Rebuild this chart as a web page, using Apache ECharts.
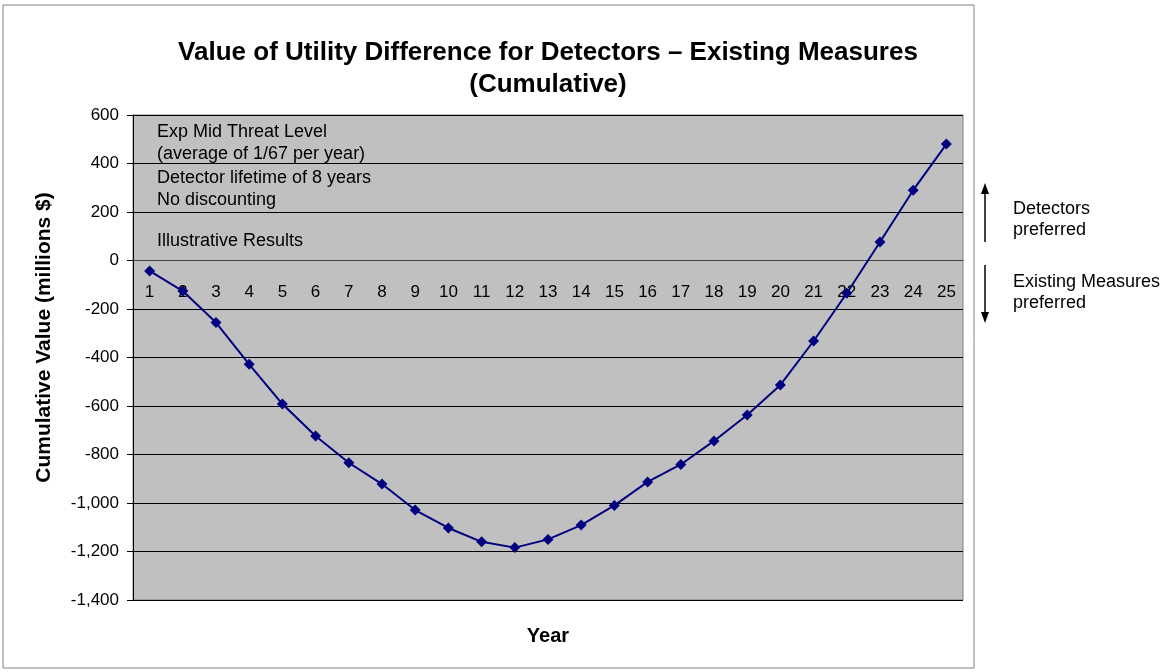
<!DOCTYPE html>
<html>
<head>
<meta charset="utf-8">
<script src="https://cdn.jsdelivr.net/npm/echarts@6/dist/echarts.min.js"></script>
<style>
  html, body { margin: 0; padding: 0; background: #fff; }
  #chart { width: 1170px; height: 672px; }
</style>
</head>
<body>
<div id="chart"></div>
<script>
// years on the x axis
var years = ['1','2','3','4','5','6','7','8','9','10','11','12','13',
             '14','15','16','17','18','19','20','21','22','23','24','25'];
// cumulative value, millions $
var cumulativeValue = [-43, -126, -256, -428, -592, -724, -834, -922, -1029, -1103,
                       -1160, -1184, -1150, -1091, -1010, -913, -841, -744, -637, -513,
                       -332, -135, 76, 290, 480];
var notes = ['Exp Mid Threat Level', '(average of 1/67 per year)',
             'Detector lifetime of 8 years', 'No discounting', 'Illustrative Results'];

var font = 'Liberation Sans, Arial, sans-serif';
var dom = document.getElementById('chart');
var myChart = echarts.init(dom, null, { renderer: 'canvas' });

var fmt = function (v) {
    var s = Math.abs(v).toString().replace(/\B(?=(\d{3})+(?!\d))/g, ',');
    return (v < 0 ? '-' : '') + s;
};

// plot box, the x axis sits on the zero line
var gridTop = 115, gridBottom = 72, yMin = -1400, yMax = 600;
var plotH = 672 - gridTop - gridBottom;
var zeroShift = plotH * (0 - yMin) / (yMax - yMin);

var option = {
    backgroundColor: '#fff',
    animation: false,
    title: {
        text: 'Value of Utility Difference for Detectors \u2013 Existing Measures\n(Cumulative)',
        left: 543,
        top: 32,
        textAlign: 'center',
        textStyle: { fontFamily: font, fontSize: 26, fontWeight: 'bold', color: '#000', lineHeight: 32 }
    },
    grid: {
        left: 133, right: 207, top: gridTop, bottom: gridBottom,
        outerBoundsMode: 'none',
        containLabel: false,
        show: true, backgroundColor: '#c0c0c0', borderColor: '#808080', borderWidth: 1
    },
    xAxis: {
        type: 'category',
        data: years,
        offset: -zeroShift,
        axisLine: { onZero: false, lineStyle: { color: '#444', width: 1 } },
        axisTick: { inside: true, length: 6, lineStyle: { color: '#333' } },
        axisLabel: { margin: 23, fontFamily: font, fontSize: 17, color: '#000' },
        splitLine: { show: false }
    },
    yAxis: {
        type: 'value',
        min: yMin, max: yMax, interval: 200,
        name: 'Cumulative Value (millions $)',
        nameLocation: 'middle',
        nameGap: 78,
        nameTextStyle: { fontFamily: font, fontSize: 21, fontWeight: 'bold', color: '#000', padding: [0, 0, 0, 40] },
        axisLine: { show: true, lineStyle: { color: '#000', width: 1 } },
        axisTick: { show: true, length: 6, lineStyle: { color: '#000' } },
        axisLabel: { fontFamily: font, fontSize: 17, color: '#000', margin: 14, formatter: fmt },
        splitLine: { lineStyle: { color: '#000', width: 1 } }
    },
    series: [{
        type: 'line',
        data: cumulativeValue,
        symbol: 'diamond',
        symbolSize: 11,
        lineStyle: { color: '#000080', width: 2 },
        itemStyle: { color: '#000080' },
        z: 5
    }],
    graphic: [
        { type: 'rect', shape: { x: 3, y: 5, width: 971, height: 663 }, style: { fill: 'none', stroke: '#808080', lineWidth: 1 }, z: -10 },
        { type: 'text', x: 548, y: 636, style: { text: 'Year', font: 'bold 20px ' + font, fill: '#000', align: 'center', verticalAlign: 'middle' } },
        { type: 'text', left: 157, top: 121, style: { text: notes[0] + '\n' + notes[1], font: '18px ' + font, fill: '#000', lineHeight: 22 } },
        { type: 'text', left: 157, top: 167, style: { text: notes[2] + '\n' + notes[3], font: '18px ' + font, fill: '#000', lineHeight: 22 } },
        { type: 'text', left: 157, top: 232, style: { text: notes[4], font: '18px ' + font, fill: '#000' } },
        // right-side arrows
        { type: 'line', shape: { x1: 985, y1: 192, x2: 985, y2: 242 }, style: { stroke: '#000', lineWidth: 1.5 } },
        { type: 'polygon', shape: { points: [[985, 183], [981, 194], [989, 194]] }, style: { fill: '#000' } },
        { type: 'line', shape: { x1: 985, y1: 265, x2: 985, y2: 314 }, style: { stroke: '#000', lineWidth: 1.5 } },
        { type: 'polygon', shape: { points: [[985, 323], [981, 312], [989, 312]] }, style: { fill: '#000' } },
        { type: 'text', left: 1013, top: 199, style: { text: 'Detectors\npreferred', font: '18px ' + font, fill: '#000', lineHeight: 21 } },
        { type: 'text', left: 1013, top: 272, style: { text: 'Existing Measures\npreferred', font: '18px ' + font, fill: '#000', lineHeight: 21 } }
    ]
};

myChart.setOption(option);
window.addEventListener('resize', myChart.resize);
</script>
</body>
</html>
